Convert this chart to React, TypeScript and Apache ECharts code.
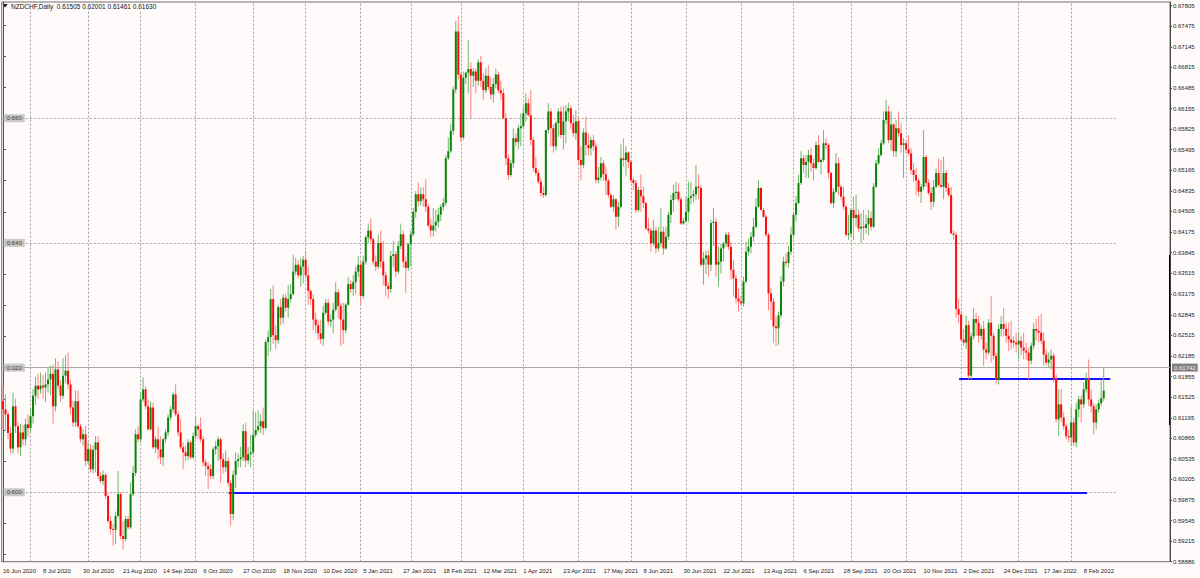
import React, { useEffect, useRef } from 'react';
import * as echarts from 'echarts';

const chartTitle = 'NZDCHF,Daily  0.61505 0.62001 0.61461 0.61630';

const dateLabels = ['16 Jun 2020', '8 Jul 2020', '30 Jul 2020', '21 Aug 2020', '14 Sep 2020', '6 Oct 2020', '27 Oct 2020', '18 Nov 2020', '10 Dec 2020', '5 Jan 2021', '27 Jan 2021', '18 Feb 2021', '12 Mar 2021', '1 Apr 2021', '23 Apr 2021', '17 May 2021', '8 Jun 2021', '30 Jun 2021', '22 Jul 2021', '13 Aug 2021', '6 Sep 2021', '28 Sep 2021', '20 Oct 2021', '10 Nov 2021', '2 Dec 2021', '24 Dec 2021', '17 Jan 2022', '8 Feb 2022'];
const dateLabelBars = [0, 16, 32, 48, 64, 80, 96, 112, 128, 144, 160, 176, 192, 208, 224, 240, 256, 272, 288, 304, 320, 336, 352, 368, 384, 400, 416, 432];
const monthStartBars = [11, 34, 55, 77, 100, 121, 143, 163, 183, 208, 230, 251, 273, 295, 316, 339, 361, 383, 406, 427];

const rightPriceTicks = [0.67805, 0.67475, 0.67145, 0.66815, 0.66485, 0.66155, 0.65825, 0.65495, 0.65165, 0.64835, 0.64505, 0.64175, 0.63845, 0.63515, 0.63175, 0.62845, 0.62515, 0.62185, 0.61855, 0.61525, 0.61195, 0.60865, 0.60535, 0.60205, 0.59875, 0.59545, 0.59215, 0.58886];
const leftPriceTicks = [0.590, 0.595, 0.600, 0.605, 0.610, 0.615, 0.620, 0.625, 0.630, 0.635, 0.640, 0.645, 0.650, 0.655, 0.660, 0.665, 0.670, 0.675];
const levelPrices = [0.600, 0.620, 0.640, 0.660];
const levelEndBar = 445.4;
const blueLevels = [0.6000, 0.6182];
const blueFromBars = [90.2, 382.2];
const blueToBars = [433.3, 442.6];
const currentPrice = 0.61742;

// daily candles: [open, high, low, close]
const ohlc: number[][] = [
[.6146,.6171,.6101,.6133],[.6133,.6157,.6098,.6125],[.6125,.6130,.6085,.6095],[.6095,.6105,.6062,.6070],[.6070,.6160,.6062,.6138],
[.6138,.6150,.6095,.6106],[.6106,.6112,.6062,.6072],[.6072,.6110,.6058,.6096],[.6096,.6108,.6075,.6085],[.6085,.6118,.6075,.6109],
[.6109,.6125,.6090,.6103],[.6103,.6135,.6095,.6122],[.6122,.6165,.6110,.6155],[.6155,.6185,.6140,.6171],[.6171,.6190,.6150,.6165],
[.6165,.6192,.6158,.6171],[.6171,.6188,.6150,.6168],[.6168,.6192,.6145,.6173],[.6173,.6200,.6160,.6181],[.6181,.6203,.6155,.6190],
[.6190,.6205,.6110,.6138],[.6138,.6215,.6130,.6197],[.6197,.6210,.6165,.6171],[.6171,.6180,.6145,.6155],[.6155,.6215,.6150,.6187],
[.6187,.6220,.6175,.6195],[.6195,.6224,.6165,.6173],[.6173,.6180,.6125,.6136],[.6136,.6147,.6105,.6112],[.6112,.6163,.6105,.6146],
[.6146,.6163,.6102,.6106],[.6106,.6110,.6080,.6085],[.6085,.6101,.6075,.6093],[.6093,.6107,.6042,.6050],[.6050,.6080,.6045,.6069],
[.6069,.6077,.6032,.6037],[.6037,.6075,.6030,.6068],[.6068,.6090,.6032,.6080],[.6080,.6090,.6021,.6026],[.6026,.6032,.6015,.6018],
[.6018,.6035,.6012,.6028],[.6028,.6031,.5989,.5994],[.5994,.5999,.5951,.5954],[.5954,.5962,.5933,.5941],[.5941,.5949,.5914,.5940],
[.5940,.5969,.5917,.5962],[.5962,.6034,.5960,.5997],[.5997,.6000,.5925,.5930],[.5930,.5953,.5908,.5925],[.5925,.5962,.5921,.5957],
[.5957,.5962,.5940,.5944],[.5944,.6016,.5941,.5997],[.5997,.6042,.5994,.6031],[.6031,.6101,.6026,.6093],[.6093,.6106,.6080,.6085],
[.6085,.6160,.6080,.6149],[.6149,.6184,.6145,.6165],[.6165,.6170,.6133,.6138],[.6138,.6149,.6099,.6101],[.6101,.6146,.6099,.6136],
[.6136,.6144,.6069,.6072],[.6072,.6090,.6063,.6085],[.6085,.6106,.6053,.6069],[.6069,.6090,.6045,.6056],[.6056,.6087,.6042,.6085],
[.6085,.6101,.6080,.6096],[.6096,.6125,.6090,.6120],[.6120,.6138,.6115,.6133],[.6133,.6160,.6128,.6157],[.6157,.6173,.6122,.6125],
[.6125,.6130,.6090,.6096],[.6096,.6117,.6069,.6072],[.6072,.6080,.6037,.6064],[.6064,.6075,.6050,.6058],[.6058,.6085,.6052,.6080],
[.6080,.6083,.6053,.6056],[.6056,.6096,.6053,.6090],[.6090,.6120,.6085,.6106],[.6106,.6109,.6085,.6101],[.6101,.6120,.6080,.6085],
[.6085,.6090,.6042,.6048],[.6048,.6053,.6026,.6042],[.6042,.6048,.6005,.6037],[.6037,.6045,.6021,.6026],[.6026,.6072,.6021,.6069],
[.6069,.6082,.6060,.6074],[.6074,.6090,.6050,.6085],[.6085,.6088,.6015,.6053],[.6053,.6062,.6030,.6040],[.6040,.6067,.6032,.6050],
[.6050,.6056,.6010,.6015],[.6015,.6020,.5946,.5965],
[.5965,.6035,.5955,.6028],[.6028,.6064,.6007,.6050],[.6050,.6062,.6040,.6053],[.6053,.6073,.6040,.6056],[.6056,.6109,.6050,.6098],
[.6098,.6111,.6040,.6051],[.6051,.6073,.6045,.6061],[.6061,.6092,.6040,.6064],[.6064,.6131,.6060,.6092],[.6092,.6128,.6088,.6100],
[.6100,.6131,.6097,.6106],[.6106,.6125,.6095,.6114],[.6114,.6136,.6092,.6103],[.6103,.6244,.6100,.6241],[.6241,.6260,.6219,.6249],
[.6249,.6326,.6227,.6310],[.6310,.6332,.6238,.6252],[.6252,.6268,.6230,.6244],[.6244,.6301,.6238,.6297],[.6297,.6310,.6268,.6280],
[.6280,.6318,.6270,.6312],[.6312,.6318,.6290,.6296],[.6296,.6332,.6280,.6310],[.6310,.6334,.6305,.6318],[.6318,.6381,.6316,.6354],
[.6354,.6376,.6348,.6365],[.6365,.6373,.6343,.6348],[.6348,.6376,.6330,.6362],[.6362,.6379,.6335,.6373],[.6373,.6387,.6343,.6348],
[.6348,.6362,.6301,.6323],[.6323,.6326,.6300,.6310],[.6310,.6318,.6260,.6277],[.6277,.6288,.6255,.6268],[.6268,.6277,.6244,.6255],
[.6255,.6277,.6238,.6246],[.6246,.6299,.6235,.6288],[.6288,.6310,.6285,.6304],[.6304,.6310,.6268,.6274],[.6274,.6285,.6265,.6277],
[.6277,.6304,.6255,.6293],[.6293,.6337,.6290,.6321],[.6321,.6326,.6279,.6299],[.6299,.6304,.6235,.6277],[.6277,.6304,.6238,.6260],
[.6260,.6304,.6255,.6301],[.6301,.6345,.6299,.6334],[.6334,.6340,.6320,.6326],[.6326,.6348,.6315,.6337],[.6337,.6362,.6318,.6354],
[.6354,.6379,.6345,.6365],[.6365,.6370,.6300,.6315],[.6315,.6379,.6310,.6370],[.6370,.6412,.6365,.6409],[.6409,.6431,.6400,.6420],
[.6420,.6439,.6401,.6406],[.6406,.6409,.6365,.6370],[.6370,.6380,.6355,.6362],[.6362,.6414,.6358,.6400],[.6400,.6420,.6360,.6370],
[.6370,.6403,.6332,.6348],[.6348,.6354,.6315,.6331],[.6331,.6337,.6310,.6326],[.6326,.6387,.6320,.6379],[.6379,.6403,.6362,.6382],
[.6382,.6387,.6345,.6354],[.6354,.6403,.6350,.6395],[.6395,.6431,.6390,.6414],[.6414,.6420,.6360,.6370],[.6370,.6378,.6320,.6360],
[.6360,.6400,.6355,.6398],[.6398,.6420,.6362,.6414],[.6414,.6456,.6410,.6450],[.6450,.6483,.6440,.6478],[.6478,.6497,.6458,.6467],
[.6467,.6489,.6460,.6478],[.6478,.6490,.6458,.6470],[.6470,.6502,.6450,.6458],[.6458,.6462,.6425,.6428],[.6428,.6439,.6410,.6420],
[.6420,.6456,.6410,.6428],[.6428,.6453,.6418,.6434],[.6434,.6456,.6425,.6445],[.6445,.6462,.6435,.6458],[.6458,.6472,.6452,.6464],
[.6464,.6541,.6460,.6536],[.6536,.6569,.6533,.6547],[.6547,.6591,.6544,.6580],[.6580,.6651,.6573,.6646],[.6646,.6756,.6640,.6739],
[.6739,.6764,.6662,.6670],[.6670,.6673,.6562,.6569],[.6569,.6675,.6565,.6665],[.6665,.6675,.6655,.6673],[.6673,.6726,.6640,.6679],
[.6679,.6690,.6600,.6668],[.6668,.6680,.6650,.6675],[.6675,.6680,.6640,.6660],[.6660,.6695,.6652,.6690],
[.6690,.6700,.6650,.6660],[.6660,.6672,.6630,.6645],[.6645,.6680,.6640,.6668],[.6668,.6685,.6645,.6650],[.6650,.6665,.6630,.6638],
[.6638,.6665,.6625,.6655],[.6655,.6680,.6648,.6670],[.6670,.6675,.6640,.6645],[.6645,.6660,.6630,.6640],[.6640,.6648,.6600,.6600],
[.6600,.6608,.6525,.6536],[.6536,.6542,.6501,.6509],[.6509,.6533,.6506,.6528],[.6528,.6584,.6520,.6568],[.6568,.6576,.6555,.6562],
[.6562,.6590,.6550,.6584],[.6584,.6608,.6555,.6587],[.6587,.6619,.6584,.6608],[.6608,.6640,.6595,.6624],[.6624,.6632,.6603,.6605],
[.6605,.6645,.6557,.6565],[.6565,.6570,.6515,.6520],[.6520,.6538,.6508,.6512],[.6512,.6517,.6495,.6498],[.6498,.6505,.6474,.6480],
[.6480,.6490,.6472,.6477],[.6477,.6581,.6474,.6581],[.6581,.6624,.6576,.6611],[.6611,.6616,.6555,.6584],[.6584,.6590,.6545,.6555],
[.6555,.6595,.6548,.6592],[.6592,.6616,.6570,.6611],[.6611,.6619,.6568,.6573],[.6573,.6619,.6550,.6595],[.6595,.6621,.6560,.6611],
[.6611,.6625,.6595,.6616],[.6616,.6621,.6582,.6592],[.6592,.6605,.6570,.6576],[.6576,.6613,.6565,.6595],[.6595,.6603,.6525,.6533],
[.6533,.6555,.6501,.6525],[.6525,.6584,.6520,.6577],[.6577,.6603,.6540,.6557],[.6557,.6575,.6540,.6552],[.6552,.6570,.6540,.6565],
[.6565,.6573,.6548,.6555],[.6555,.6560,.6496,.6501],[.6501,.6522,.6496,.6505],[.6505,.6538,.6500,.6528],[.6528,.6533,.6500,.6510],
[.6510,.6522,.6477,.6500],[.6500,.6503,.6472,.6477],[.6477,.6480,.6456,.6458],[.6458,.6477,.6450,.6470],[.6470,.6472,.6421,.6442],
[.6442,.6466,.6426,.6458],[.6458,.6558,.6455,.6536],[.6536,.6568,.6522,.6533],[.6533,.6555,.6508,.6545],[.6545,.6547,.6520,.6530],
[.6530,.6533,.6496,.6501],[.6501,.6505,.6485,.6496],[.6496,.6501,.6448,.6453],[.6453,.6490,.6450,.6485],[.6485,.6510,.6450,.6475],
[.6475,.6490,.6456,.6464],[.6464,.6466,.6421,.6423],[.6423,.6440,.6415,.6420],[.6420,.6424,.6386,.6399],[.6399,.6437,.6395,.6420],
[.6420,.6426,.6383,.6391],[.6391,.6426,.6386,.6400],[.6400,.6456,.6394,.6418],[.6418,.6426,.6381,.6391],[.6391,.6426,.6389,.6410],
[.6410,.6450,.6405,.6445],[.6445,.6477,.6432,.6469],[.6469,.6493,.6450,.6480],[.6480,.6498,.6470,.6482],[.6482,.6496,.6466,.6470],
[.6470,.6474,.6429,.6431],[.6431,.6440,.6429,.6435],[.6435,.6474,.6432,.6450],[.6450,.6498,.6434,.6472],[.6472,.6498,.6462,.6475],
[.6475,.6485,.6465,.6478],[.6478,.6525,.6469,.6490],[.6490,.6510,.6470,.6488],[.6488,.6493,.6362,.6365],[.6365,.6386,.6333,.6375],
[.6375,.6388,.6350,.6380],[.6380,.6388,.6346,.6365],
[.6365,.6437,.6355,.6432],[.6432,.6456,.6395,.6434],[.6434,.6440,.6346,.6365],[.6365,.6394,.6330,.6370],[.6370,.6399,.6351,.6391],
[.6391,.6402,.6370,.6399],[.6399,.6418,.6394,.6413],[.6413,.6418,.6389,.6394],[.6394,.6402,.6341,.6357],[.6357,.6373,.6314,.6343],
[.6343,.6349,.6303,.6311],[.6311,.6327,.6290,.6306],[.6306,.6315,.6300,.6303],[.6303,.6346,.6298,.6338],[.6338,.6402,.6335,.6386],
[.6386,.6407,.6380,.6394],[.6394,.6418,.6383,.6410],[.6410,.6440,.6402,.6426],[.6426,.6472,.6424,.6458],[.6458,.6501,.6456,.6488],
[.6488,.6490,.6453,.6453],[.6453,.6456,.6440,.6442],[.6442,.6445,.6410,.6413],[.6413,.6416,.6292,.6319],[.6319,.6327,.6276,.6306],
[.6306,.6312,.6239,.6266],[.6266,.6282,.6234,.6263],[.6263,.6290,.6236,.6284],[.6284,.6347,.6279,.6338],[.6338,.6378,.6330,.6370],
[.6370,.6383,.6362,.6368],[.6368,.6395,.6360,.6386],[.6386,.6426,.6381,.6413],[.6413,.6450,.6407,.6445],[.6445,.6475,.6434,.6464],
[.6464,.6510,.6462,.6496],[.6496,.6547,.6493,.6536],[.6536,.6541,.6512,.6525],[.6525,.6541,.6504,.6530],[.6530,.6549,.6504,.6541],
[.6541,.6552,.6514,.6528],[.6528,.6535,.6500,.6520],[.6520,.6563,.6517,.6557],[.6557,.6573,.6528,.6530],[.6530,.6536,.6510,.6533],
[.6533,.6581,.6530,.6560],[.6560,.6568,.6550,.6557],[.6557,.6560,.6504,.6512],[.6512,.6514,.6461,.6464],[.6464,.6488,.6456,.6482],
[.6482,.6544,.6480,.6528],[.6528,.6537,.6477,.6490],[.6490,.6493,.6469,.6474],[.6474,.6490,.6453,.6458],[.6458,.6461,.6410,.6413],
[.6413,.6445,.6405,.6415],[.6415,.6456,.6410,.6453],[.6453,.6474,.6405,.6440],[.6440,.6477,.6426,.6445],[.6445,.6453,.6418,.6423],
[.6423,.6448,.6400,.6426],[.6426,.6453,.6405,.6424],[.6424,.6445,.6415,.6430],[.6430,.6453,.6412,.6440],[.6440,.6450,.6420,.6426],
[.6426,.6496,.6424,.6490],[.6490,.6533,.6488,.6528],[.6528,.6552,.6525,.6541],[.6541,.6565,.6538,.6560],[.6560,.6611,.6557,.6597],
[.6597,.6629,.6590,.6611],[.6611,.6620,.6560,.6565],[.6565,.6611,.6548,.6590],[.6590,.6592,.6538,.6547],[.6547,.6597,.6538,.6584],
[.6584,.6611,.6570,.6576],[.6576,.6592,.6545,.6557],[.6557,.6568,.6504,.6560],[.6560,.6565,.6544,.6550],[.6550,.6573,.6540,.6544],
[.6544,.6552,.6510,.6517],[.6517,.6528,.6498,.6509],[.6509,.6520,.6477,.6500],[.6500,.6504,.6474,.6482],[.6482,.6495,.6464,.6490],
[.6490,.6581,.6485,.6538],[.6538,.6541,.6490,.6496],[.6496,.6502,.6477,.6480],[.6480,.6490,.6453,.6466],[.6466,.6501,.6458,.6490],
[.6490,.6520,.6488,.6512],[.6512,.6535,.6490,.6493],[.6493,.6533,.6488,.6490],[.6490,.6538,.6470,.6512],[.6512,.6517,.6482,.6488],
[.6488,.6496,.6474,.6477],[.6477,.6490,.6415,.6415],[.6415,.6420,.6405,.6413],
[.6413,.6418,.6280,.6294],[.6294,.6310,.6272,.6285],[.6285,.6291,.6243,.6245],[.6245,.6262,.6235,.6240],[.6240,.6283,.6230,.6268],
[.6268,.6275,.6181,.6187],[.6187,.6256,.6181,.6250],[.6250,.6296,.6245,.6278],[.6278,.6288,.6251,.6272],[.6272,.6283,.6240,.6251],
[.6251,.6268,.6245,.6262],[.6262,.6275,.6203,.6229],[.6229,.6240,.6213,.6224],[.6224,.6278,.6220,.6272],[.6272,.6315,.6208,.6251],
[.6251,.6256,.6213,.6219],[.6219,.6224,.6173,.6181],[.6181,.6270,.6173,.6262],[.6262,.6283,.6250,.6270],[.6270,.6296,.6250,.6262],
[.6262,.6272,.6240,.6251],[.6251,.6272,.6227,.6245],[.6245,.6275,.6229,.6240],[.6243,.6250,.6232,.6240],[.6240,.6256,.6224,.6237],
[.6237,.6256,.6213,.6243],[.6243,.6250,.6220,.6232],[.6232,.6256,.6213,.6227],[.6227,.6240,.6213,.6224],[.6224,.6232,.6181,.6211],
[.6211,.6240,.6205,.6235],[.6235,.6272,.6229,.6262],[.6262,.6278,.6243,.6259],[.6259,.6283,.6240,.6256],[.6256,.6286,.6237,.6243],
[.6243,.6256,.6203,.6221],[.6221,.6229,.6203,.6208],[.6208,.6224,.6200,.6213],[.6213,.6229,.6197,.6219],[.6219,.6224,.6176,.6181],
[.6181,.6189,.6112,.6117],[.6117,.6165,.6090,.6141],[.6141,.6165,.6112,.6120],[.6120,.6128,.6100,.6106],[.6106,.6110,.6085,.6090],
[.6090,.6101,.6080,.6088],[.6088,.6138,.6074,.6112],[.6112,.6120,.6074,.6080],[.6080,.6143,.6072,.6133],[.6133,.6155,.6120,.6149],
[.6149,.6155,.6112,.6141],[.6141,.6176,.6135,.6165],[.6165,.6192,.6160,.6181],[.6181,.6213,.6138,.6149],[.6149,.6165,.6128,.6138],
[.6138,.6143,.6093,.6112],[.6112,.6141,.6101,.6133],[.6133,.6149,.6128,.6143],[.6143,.6181,.6138,.6151],[.6151,.6200,.6146,.6163],
];

const Y_MIN = 0.58886;
const Y_MAX = 0.67865;
const SLOTS = 467;
const FONT = 'Liberation Sans';

export default function App() {
  const ref = useRef<HTMLDivElement>(null);
  useEffect(() => {
    const chart = echarts.init(ref.current as HTMLDivElement, null, { renderer: 'svg' });
    const candleData = ohlc.map((c, i) => [i, c[0], c[1], c[2], c[3]]);
    const gridLineStyle = { color: '#a3a3a3', type: [2, 2], width: 1 };
    chart.setOption({
      animation: false,
      backgroundColor: '#fffafa',
      textStyle: { fontFamily: FONT },
      grid: { left: 1, right: 30, top: 2, bottom: 16.3, show: true, borderColor: '#6e6e6e', borderWidth: 1 },
      xAxis: {
        type: 'value', min: -0.5, max: SLOTS - 0.5,
        axisLine: { show: false }, axisTick: { show: false }, splitLine: { show: false },
        axisLabel: {
          customValues: dateLabelBars,
          formatter: (v: number) => { const k = dateLabelBars.indexOf(Math.round(v)); return k >= 0 ? dateLabels[k] : ''; },
          align: 'left', fontSize: 6, color: '#1a1a1a', margin: 6, fontFamily: FONT,
        },
      },
      yAxis: [
        {
          type: 'value', position: 'left', min: Y_MIN, max: Y_MAX,
          axisLine: { show: true, lineStyle: { color: '#555' } },
          axisTick: { show: true, inside: true, length: 3, customValues: leftPriceTicks, lineStyle: { color: '#555' } },
          axisLabel: {
            inside: true, customValues: levelPrices, formatter: (v: number) => v.toFixed(3),
            backgroundColor: '#c8c8c8', color: '#333', fontSize: 6, padding: [1, 3, 1, 3], margin: 2, fontFamily: FONT,
          },
          splitLine: { show: false },
        },
        {
          type: 'value', position: 'right', min: Y_MIN, max: Y_MAX,
          axisLine: { show: true, lineStyle: { color: '#444' } },
          axisTick: { show: true, length: 2, customValues: rightPriceTicks, lineStyle: { color: '#444' } },
          axisLabel: { customValues: rightPriceTicks, formatter: (v: number) => v.toFixed(5), fontSize: 6, color: '#1a1a1a', margin: 3, fontFamily: FONT },
          splitLine: { show: false },
        },
      ],
      series: [
        {
          type: 'line', data: [], z: 1, silent: true,
          markLine: {
            silent: true, symbol: ['none', 'none'], label: { show: false },
            lineStyle: gridLineStyle,
            data: [
              ...monthStartBars.map((b) => ({ xAxis: b })),
              ...levelPrices.map((v) => [{ coord: [-0.5, v] }, { coord: [levelEndBar, v] }]),
              {
                yAxis: currentPrice,
                lineStyle: { color: '#a9a9a9', type: 'solid', width: 1.2 },
                label: { show: true, position: 'end', formatter: currentPrice.toFixed(5), backgroundColor: '#808080', color: '#f2f2f2', fontSize: 6, padding: [1, 2, 1, 2], distance: 2, fontFamily: FONT },
              },
            ],
          },
        },
        {
          type: 'custom', z: 5, clip: true,
          encode: { x: 0, y: [1, 2, 3, 4] },
          data: candleData,
          renderItem: (params: any, api: any) => {
            const i = api.value(0);
            const o = api.value(1), h = api.value(2), l = api.value(3), c = api.value(4);
            const pO = api.coord([i, o]);
            const pC = api.coord([i, c]);
            const pH = api.coord([i, h]);
            const pL = api.coord([i, l]);
            const w = 2;
            const up = c >= o;
            const top = Math.min(pO[1], pC[1]);
            const hgt = Math.max(Math.abs(pO[1] - pC[1]), 1);
            return {
              type: 'group',
              children: [
                { type: 'line', shape: { x1: pH[0], y1: pH[1], x2: pL[0], y2: pL[1] }, style: { stroke: up ? '#6fb86f' : '#ff8080', lineWidth: 1 } },
                { type: 'rect', shape: { x: pO[0] - w / 2, y: top, width: w, height: hgt }, style: { fill: up ? '#078507' : '#ff0a0a' } },
              ],
            };
          },
        },
        {
          type: 'line', data: [], z: 10, silent: true,
          markLine: {
            silent: true, symbol: ['none', 'none'], label: { show: false },
            lineStyle: { color: '#1414ff', width: 1.8, type: 'solid' },
            data: blueLevels.map((v, k) => [{ coord: [blueFromBars[k], v] }, { coord: [blueToBars[k], v] }]),
          },
        },
      ],
      graphic: [
        { type: 'polygon', shape: { points: [[2.5, 4], [7.5, 4], [5, 7.5]] }, style: { fill: '#111' } },
        { type: 'text', x: 11, y: 6.5, style: { text: chartTitle, font: `6.5px "${FONT}"`, fill: '#111', verticalAlign: 'middle' } },
        { type: 'line', shape: { x1: 1170, y1: 255, x2: 1170, y2: 425 }, style: { stroke: '#000', lineWidth: 2 } },
      ],
    });
    return () => chart.dispose();
  }, []);
  return <div ref={ref} style={{ position: 'fixed', left: 0, top: 0, width: 1200, height: 578, background: '#fffafa' }} />;
}
